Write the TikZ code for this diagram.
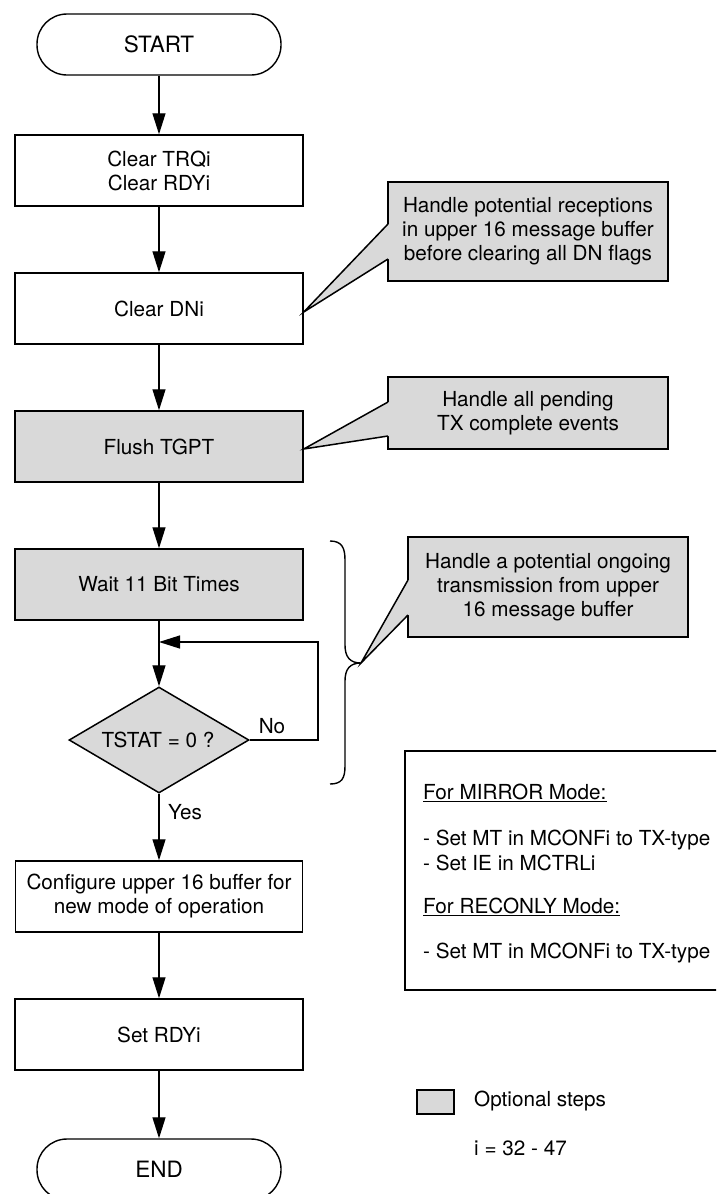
\documentclass[tikz,border=0pt]{standalone}
\usepackage{fontspec}
\setmainfont{TeX Gyre Heros}
\usetikzlibrary{arrows.meta,shapes.geometric,calc}
\definecolor{optgray}{RGB}{217,217,217}
\begin{document}
\begin{tikzpicture}[x=1pt,y=-1pt,
  every node/.style={font=\fontsize{20.7}{24}\selectfont, text=black},
  stepbox/.style={draw, line width=1.5pt, minimum width=288pt, minimum height=71pt,
    inner sep=0pt, align=center},
  optbox/.style={stepbox, fill=optgray},
  term/.style={draw, line width=1.4pt, rounded corners=30pt, minimum width=244pt,
    minimum height=61pt, inner sep=0pt, font=\fontsize{22.5}{26}\selectfont},
  flow/.style={line width=1.3pt, -{Triangle[length=21pt,width=13pt]}},
  callbox/.style={draw, fill=optgray, line width=1.5pt, minimum width=280pt,
    inner sep=0pt, align=center},
  pointer/.style={line width=1.5pt, line join=miter},
  lbl/.style={inner sep=0pt},
  notetxt/.style={anchor=west, inner sep=0pt},
]
\useasboundingbox (0,0) rectangle (716,1194);
\clip (0,0) rectangle (716,1194);

% main flow
\node[term] (start) at (159,44.5) {START};
\node[stepbox] (clr) at (159,170.5) {Clear TRQi\\Clear RDYi};
\node[stepbox] (clrdn) at (159,308.5) {Clear DNi};
\node[optbox] (flush) at (159,446.5) {Flush TGPT};
\node[optbox] (wait) at (159,584.5) {Wait 11 Bit Times};
\node[diamond, draw, fill=optgray, line width=1.5pt, minimum width=180pt,
  minimum height=106pt, inner sep=0pt] (dec) at (159,740) {};
\node[lbl] (dectext) at (158,740) {TSTAT = 0 ?};
\node[stepbox, minimum width=287pt] (cfg) at (159,896.5)
  {Configure upper 16 buffer for\\new mode of operation};
\node[stepbox] (setrdy) at (159,1034.5) {Set RDYi};
\node[term] (end) at (159,1169.5) {END};

\draw[flow] (start) -- (clr);
\draw[flow] (clr) -- (clrdn);
\draw[flow] (clrdn) -- (flush);
\draw[flow] (flush) -- (wait);
\draw[flow] (wait) -- (dec);
\coordinate (loopin) at (159,642);
\draw[flow] (dec.east) -- (318,740) -- (318,642) -- (loopin);
\node[lbl] (nolbl) at (272,726) {No};
\draw[flow] (dec) -- (cfg);
\node[lbl] (yeslbl) at (185,812) {Yes};
\draw[flow] (cfg) -- (setrdy);
\draw[flow] (setrdy) -- (end);

% callout 1
\node[callbox, minimum height=99pt] (c1) at (528,231.5)
  {Handle potential receptions\\in upper 16 message buffer\\before clearing all DN flags};
\coordinate (p1) at ($(clrdn.east)+(0,3.5)$);
\fill[optgray] (p1) -- (388,259) -- (390,259) -- (390,224) -- (388,224) -- cycle;
\draw[pointer] (388,224) -- (p1) -- (388,259);

% callout 2
\node[callbox, minimum height=72pt] (c2) at (528,413)
  {Handle all pending\\TX complete events};
\coordinate (p2) at ($(flush.east)+(0,2.5)$);
\fill[optgray] (p2) -- (388,436) -- (390,436) -- (390,402) -- (388,402) -- cycle;
\draw[pointer] (388,402) -- (p2) -- (388,436);

% brace around the wait loop
\coordinate (tip) at (361,663);
\draw[line width=1.4pt] (330,541) .. controls (342,541) and (345,548) .. (345,560)
  -- (345,645) .. controls (345,657) and (350,663) .. (tip)
  .. controls (350,663) and (345,669) .. (345,681)
  -- (345,766) .. controls (345,778) and (342,784) .. (330,784);

% callout 3
\node[callbox, minimum height=100pt] (c3) at (548,587)
  {Handle a potential ongoing\\transmission from upper\\16 message buffer};
\fill[optgray] (tip) -- (408,615) -- (410,615) -- (410,580) -- (408,580) -- cycle;
\draw[pointer] (408,580) -- (tip) -- (408,615);

% mode notes
\node[draw, line width=1.2pt, minimum width=335pt, minimum height=239pt, inner sep=0pt]
  (note) at (572.5,870.5) {};
\node[notetxt] (n1) at (423,793) {\underline{For MIRROR Mode:}};
\node[notetxt] (n2) at (423,840) {- Set MT in MCONFi to TX-type};
\node[notetxt] (n3) at (423,863) {- Set IE in MCTRLi};
\node[notetxt] (n4) at (423,907) {\underline{For RECONLY Mode:}};
\node[notetxt] (n5) at (423,953) {- Set MT in MCONFi to TX-type};

% legend
\node[draw, fill=optgray, line width=1.2pt, minimum width=37pt, minimum height=24pt,
  inner sep=0pt] (legbox) at (435.5,1102) {};
\node[notetxt] (legtxt) at (474,1101) {Optional steps};
\node[notetxt] (idx) at (474,1148) {i = 32 - 47};
\end{tikzpicture}
\end{document}
